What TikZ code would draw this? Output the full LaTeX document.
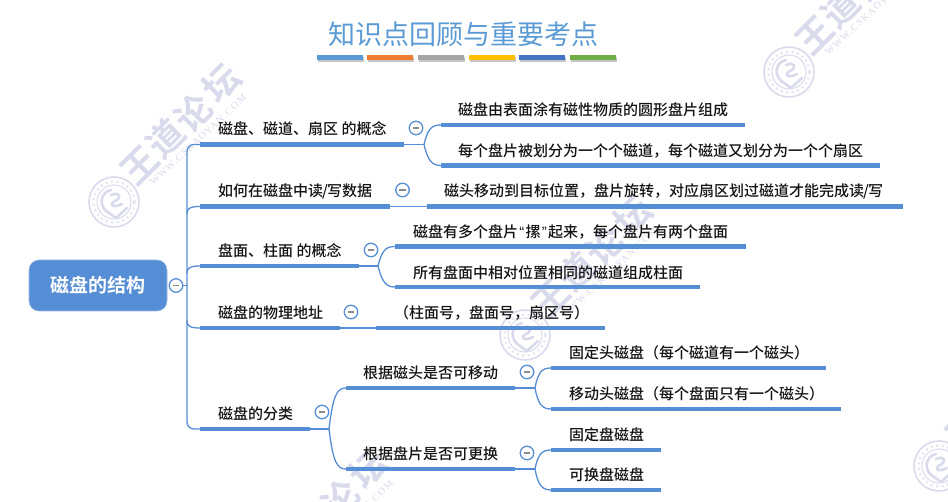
\documentclass[tikz,border=0pt]{standalone}
\usepackage{fontspec}
\setmainfont{Noto Sans CJK SC Medium}
\newfontfamily\wmfont[LetterSpace=12]{Liberation Serif}
\newfontfamily\cjkbold{Noto Sans CJK SC Bold}
\newfontfamily\cjklight{Noto Sans CJK SC}
\newfontfamily\quotefont{Liberation Sans}
\definecolor{mapblue}{HTML}{558ED5}
\definecolor{titleblue}{HTML}{5B9BD5}
\definecolor{wmark}{HTML}{D9DBEC}
\definecolor{stripA}{HTML}{5B9BD5}
\definecolor{stripB}{HTML}{ED7D31}
\definecolor{stripC}{HTML}{A5A5A5}
\definecolor{stripD}{HTML}{FFC000}
\definecolor{stripE}{HTML}{4472C4}
\definecolor{stripF}{HTML}{70AD47}
\usetikzlibrary{shadows}
\newcommand{\hwq}[1]{\makebox[7.5pt][c]{\quotefont #1}}
\tikzset{
  x=1pt,y=-1pt,
  label text/.style={anchor=west,inner sep=0pt,font=\fontsize{15}{15}\selectfont,text=black!92},
  bar/.style={line width=4.4pt,draw=mapblue},
  link/.style={line width=1.3pt,draw=mapblue,line cap=round},
  toggle/.style={circle,draw=mapblue,line width=1.3pt,fill=white,minimum size=13.5pt,inner sep=0pt,
    path picture={\draw[black!45,line width=1.1pt] ([xshift=-3.2pt]path picture bounding box.center) -- ([xshift=3.2pt]path picture bounding box.center);}},
  tbar/.style={minimum width=46pt,minimum height=5pt,inner sep=0pt,
    drop shadow={shadow xshift=.8pt,shadow yshift=-1.8pt,opacity=.45}},
  wm glyph/.style={text=wmark,inner sep=0pt,font=\cjkbold\fontsize{36}{36}\selectfont}
}
% Diagonal site stamp: ringed seal plus the forum name
\newcommand{\stamp}[2]{%
  \begin{scope}[shift={(#1,#2)}]
    \draw[wmark,line width=1.6pt] (0,0) circle[radius=25];
    \draw[wmark!70,line width=2.4pt,dash pattern=on 2pt off 3.5pt] (0,0) circle[radius=20.5];
    \draw[wmark,line width=1pt] (0,0) circle[radius=17];
    \draw[wmark,line width=2.6pt,line cap=round] (-3,-12) .. controls (-14,-10) and (-16,5) .. (-5,11);
    \draw[wmark,line width=2.6pt,line cap=round] (-3,-7) .. controls (6,-11) and (8,-4) .. (1,-1) .. controls (-5,2) and (-2,7) .. (8,2);
    \draw[wmark,line width=2.6pt,line cap=round,line join=round] (-5,11) -- (2,16) -- (13,6);
    \node[wm glyph,rotate=45] at (26,-37) {王};
    \node[wm glyph,rotate=45] at (51,-64) {道};
    \node[wm glyph,rotate=45] at (79,-89) {论};
    \node[wm glyph,rotate=45] at (108,-119) {坛};
    \node[rotate=43,text=wmark,inner sep=0pt,font=\wmfont\fontsize{10}{10}\selectfont] at (84,-62) {WWW.CSKAOYAN.COM};
  \end{scope}}
\begin{document}
\begin{tikzpicture}
\useasboundingbox (0,0) rectangle (948,502);
\fill[white] (0,0) rectangle (948,502);
\begin{scope}
  \clip (0,0) rectangle (948,502);
  \stamp{114}{202}
  \stamp{789}{72}
  \stamp{525}{335}
  \stamp{939}{466}
  \stamp{261}{588}
\end{scope}

% Heading and its colour strip
\node[inner sep=0pt,text=titleblue,font=\cjklight\fontsize{27}{30}\selectfont] (title) at (463,34) {知识点回顾与重要考点};
\node[tbar,fill=stripA] (s1) at (340,57.5) {};
\node[tbar,fill=stripB] (s2) at (390,57.5) {};
\node[tbar,fill=stripC] (s3) at (441,57.5) {};
\node[tbar,fill=stripD] (s4) at (492,57.5) {};
\node[tbar,fill=stripE] (s5) at (542,57.5) {};
\node[tbar,fill=stripF] (s6) at (593,57.5) {};

% Root
\node[rounded corners=10pt,fill=mapblue,draw=mapblue!60,line width=.6pt,minimum width=138pt,minimum height=51pt,inner sep=0pt,text=white,font=\cjkbold\fontsize{19}{19}\selectfont] (root) at (98,285.5) {磁盘的结构};
\node[toggle] (t0) at (176,285.5) {};

% Trunk from the root toggle to the five first-level bars
\coordinate (a0) at (200,144.5);
\coordinate (b0) at (200,206.5);
\coordinate (c0) at (200,266);
\coordinate (d0) at (200,328);
\coordinate (e0) at (200,429);
\draw[link] (t0.east) -- (187,285.5);
\draw[link,rounded corners=7pt] (a0) -- (187,144.5) -- (187,429) -- (e0);
\draw[link] (187,213.5) .. controls (187,208.5) and (190,206.5) .. (b0);
\draw[link] (187,273) .. controls (187,268) and (190,266) .. (c0);
\draw[link] (187,321) .. controls (187,326) and (190,328) .. (d0);

% First-level topics
\coordinate (a1) at (404,144.5);
\coordinate (b1) at (390,206.5);
\coordinate (c1) at (359,266);
\coordinate (d1) at (340,328);
\coordinate (e1) at (310,429);
\draw[bar] (a0) -- (a1);
\draw[bar] (b0) -- (b1);
\draw[bar] (c0) -- (c1);
\draw[bar] (d0) -- (d1);
\draw[bar] (e0) -- (e1);
\node[label text] (at) at (218,129) {磁盘、磁道、扇区 的概念};
\node[label text] (bt) at (218,191) {如何在磁盘中读\kern-1pt/\kern-1pt写数据};
\node[label text] (ct) at (218,251) {盘面、柱面 的概念};
\node[label text] (dt) at (218,313) {磁盘的物理地址};
\node[label text] (et) at (218,413.5) {磁盘的分类};
\node[toggle] at (416,128) {};
\node[toggle] at (402.5,190) {};
\node[toggle] at (371,250) {};
\node[toggle] at (351,312) {};
\node[toggle] at (322,412) {};

% Second-level bars and their curved links
\coordinate (a2s) at (441,125);
\coordinate (a2e) at (745,125);
\coordinate (a3s) at (441,165.5);
\coordinate (a3e) at (880,165.5);
\coordinate (b2s) at (427,206.5);
\coordinate (b2e) at (903,206.5);
\coordinate (c2s) at (395,246.5);
\coordinate (c2e) at (746,246.5);
\coordinate (c3s) at (395,287);
\coordinate (c3e) at (700,287);
\coordinate (d2s) at (376,328);
\coordinate (d2e) at (605,328);
\coordinate (e2s) at (346,388);
\coordinate (e2e) at (515,388);
\coordinate (e3s) at (346,469);
\coordinate (e3e) at (515,469);
\foreach \s/\e in {a2s/a2e,a3s/a3e,b2s/b2e,c2s/c2e,c3s/c3e,d2s/d2e,e2s/e2e,e3s/e3e}{\draw[bar] (\s) -- (\e);}
\draw[link] (a1) -- (424,144.5);
\draw[link] (424,144.5) .. controls (428,128) and (432,125) .. (a2s);
\draw[link] (424,144.5) .. controls (428,161) and (432,165.5) .. (a3s);
\draw[link] (b1) -- (b2s);
\draw[link] (c1) -- (378,266);
\draw[link] (378,266) .. controls (382,250) and (386,246.5) .. (c2s);
\draw[link] (378,266) .. controls (382,282) and (386,287) .. (c3s);
\draw[link] (d1) -- (d2s);
\draw[link] (e1) -- (329,429);
\draw[link] (329,429) .. controls (333,395) and (337,388) .. (e2s);
\draw[link] (329,429) .. controls (333,462) and (337,469) .. (e3s);

\node[label text] (a2) at (458,110) {磁盘由表面涂有磁性物质的圆形盘片组成};
\node[label text] (a3) at (458,151) {每个盘片被划分为一个个磁道，每个磁道又划分为一个个扇区};
\node[label text] (b2) at (444,191.5) {磁头移动到目标位置，盘片旋转，对应扇区划过磁道才能完成读\kern-1pt/\kern-1pt写};
\node[label text] (c2) at (413,231.5) {磁盘有多个盘片\hwq{“}摞\hwq{”}起来，每个盘片有两个盘面};
\node[label text] (c3) at (413,272.5) {所有盘面中相对位置相同的磁道组成柱面};
\node[label text] (d2) at (394,313) {（柱面号，盘面号，扇区号）};
\node[label text] (e2) at (363,373) {根据磁头是否可移动};
\node[label text] (e3) at (363,454) {根据盘片是否可更换};
\node[toggle] at (527,372) {};
\node[toggle] at (527,453) {};

% Third-level leaves
\coordinate (f1s) at (551,368);
\coordinate (f1e) at (826,368);
\coordinate (f2s) at (551,409);
\coordinate (f2e) at (841,409);
\coordinate (g1s) at (551,450);
\coordinate (g1e) at (661,450);
\coordinate (g2s) at (551,490);
\coordinate (g2e) at (661,490);
\foreach \s/\e in {f1s/f1e,f2s/f2e,g1s/g1e,g2s/g2e}{\draw[bar] (\s) -- (\e);}
\draw[link] (e2e) -- (535,388);
\draw[link] (535,388) .. controls (538,372) and (542,368) .. (f1s);
\draw[link] (535,388) .. controls (538,404) and (542,409) .. (f2s);
\draw[link] (e3e) -- (535,469);
\draw[link] (535,469) .. controls (538,454) and (542,450) .. (g1s);
\draw[link] (535,469) .. controls (538,485) and (542,490) .. (g2s);
\node[label text] (f1) at (569,353) {固定头磁盘（每个磁道有一个磁头）};
\node[label text] (f2) at (569,394) {移动头磁盘（每个盘面只有一个磁头）};
\node[label text] (g1) at (569,435) {固定盘磁盘};
\node[label text] (g2) at (569,475) {可换盘磁盘};
\end{tikzpicture}
\end{document}
